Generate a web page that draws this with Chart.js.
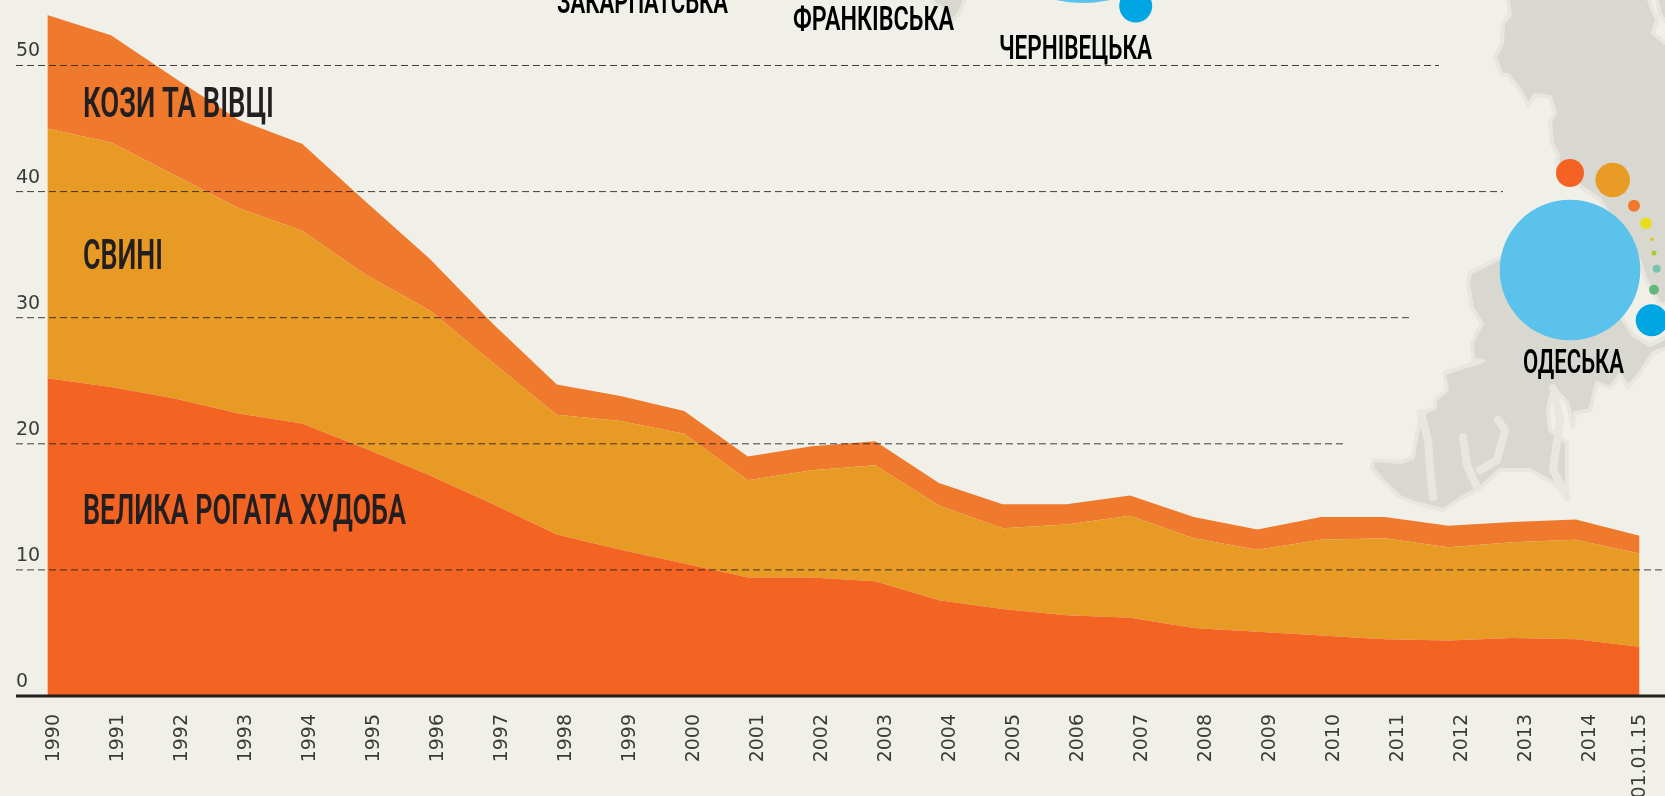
<!DOCTYPE html>
<html>
<head>
<meta charset="utf-8">
<title>Поголів'я худоби</title>
<script src="https://cdn.jsdelivr.net/npm/chart.js@4"></script>
<style>
    html, body { margin: 0; padding: 0; background: #f0f0e8; overflow: hidden; }
    canvas { display: block; }
</style>
</head>
<body>
<canvas id="livestockChart" width="1665" height="796"></canvas>
<script>
var years = [1990, 1991, 1992, 1993, 1994, 1995, 1996, 1997, 1998, 1999, 2000, 2001, 2002,
    2003, 2004, 2005, 2006, 2007, 2008, 2009, 2010, 2011, 2012, 2013, 2014, 2015];
var tickYears = [1990, 1991, 1992, 1993, 1994, 1995, 1996, 1997, 1998, 1999, 2000, 2001, 2002,
    2003, 2004, 2005, 2006, 2007, 2008, 2009, 2010, 2011, 2012, 2013, 2014, 2014.78];
var tickLabels = ['1990', '1991', '1992', '1993', '1994', '1995', '1996', '1997', '1998', '1999',
    '2000', '2001', '2002', '2003', '2004', '2005', '2006', '2007', '2008', '2009', '2010', '2011',
    '2012', '2013', '2014', '01.01.15'];
var yTicks = [0, 10, 20, 30, 40, 50];

var cattle = [25.2, 24.5, 23.6, 22.4, 21.6, 19.6, 17.5, 15.2, 12.8, 11.6, 10.5, 9.4, 9.4,
    9.1, 7.6, 6.9, 6.4, 6.2, 5.4, 5.1, 4.8, 4.5, 4.4, 4.6, 4.5, 3.9];
var pigs = [19.8, 19.4, 17.7, 16.3, 15.3, 13.8, 13.1, 11.2, 9.5, 10.2, 10.3, 7.7, 8.5,
    9.2, 7.5, 6.4, 7.2, 8.1, 7.1, 6.5, 7.6, 8.0, 7.4, 7.6, 7.9, 7.4];
var sheep = [9.0, 8.5, 7.7, 7.0, 6.9, 5.8, 4.1, 3.1, 2.4, 2.0, 1.8, 1.9, 1.9,
    1.9, 1.8, 1.9, 1.6, 1.6, 1.7, 1.6, 1.8, 1.7, 1.7, 1.6, 1.6, 1.4];

// dashed lines stop at different places, the map fragment sits behind them
var gridValues = [10, 20, 30, 40, 50];
var gridEnds = [1665, 1346, 1410, 1503, 1439];

// region bubbles cut off by the picture edge, in map coordinates
var bubbleX = [1083, 1135.7, 1570, 1570, 1612.7, 1634, 1646, 1651.7, 1654, 1656.7, 1654, 1651.7];
var bubbleY = [-115, 6, 270, 173, 180, 205.7, 223.3, 239.3, 253, 268.7, 289.7, 320.3];
var bubbleR = [118, 16.5, 70.3, 14, 17.3, 6, 5.8, 1.7, 2.5, 4, 5, 16];
var bubbleColors = ['#5bc2eb', '#00a6e4', '#5bc2eb', '#f46323', '#e89c26', '#ef7a2d', '#e8df1c',
    '#e0c020', '#a0cc30', '#7cc2b0', '#62b878', '#00a6e4'];

var landNorth = [[1506.7, -10], [1510, 15], [1503, 23], [1502, 43], [1495, 58], [1502, 75], [1508, 75],
    [1520, 90], [1528, 105], [1535, 95], [1550, 97], [1555, 113], [1550, 122], [1552, 143], [1558, 155],
    [1557, 167], [1583, 188], [1600, 200], [1640, 262], [1645, 278], [1660, 305], [1675, 300],
    [1675, 48], [1665, 43], [1653, 33], [1657, 20], [1645, -10]];
var landSouth = [[1500, 258], [1470, 273], [1468, 283], [1472, 308], [1482, 323], [1472, 342], [1473, 360],
    [1483, 361], [1444, 373], [1447, 390], [1435, 400], [1435, 408], [1421, 413], [1417, 433], [1413, 458],
    [1400, 462], [1373, 460], [1372, 468], [1382, 480], [1400, 497], [1415, 503], [1443, 510], [1463, 497],
    [1480, 488], [1500, 470], [1530, 470], [1553, 483], [1567, 497], [1567, 443], [1550, 430], [1548, 410],
    [1553, 388], [1567, 402], [1573, 427], [1575, 413], [1590, 410], [1597, 383], [1610, 388], [1620, 375],
    [1628, 387], [1640, 373], [1653, 353], [1675, 345], [1675, 333], [1650, 345], [1633, 335], [1622, 318],
    [1570, 270]];
var landBits = [[[925, -10], [969, -10], [960, 12], [950, 24], [945, 10], [935, 4]],
    [[1655, -10], [1675, -10], [1675, 32], [1660, 15]]];
var inlets = [[[1421, 413], [1428, 440], [1430, 470], [1433, 497]],
    [[1463, 437], [1467, 465], [1477, 487]],
    [[1498, 420], [1505, 430], [1497, 460], [1480, 470]],
    [[1553, 388], [1560, 420], [1553, 470], [1567, 497]]];

var chartLabels = [
    { text: 'КОЗИ ТА ВІВЦІ', x: 83, y: 117, w: 191, size: 42, color: '#231f20' },
    { text: 'СВИНІ', x: 83, y: 269, w: 80, size: 42, color: '#231f20' },
    { text: 'ВЕЛИКА РОГАТА ХУДОБА', x: 83, y: 524, w: 323, size: 42, color: '#231f20' },
    { text: 'ЗАКАРПАТСЬКА', x: 557, y: 13, w: 171, size: 34, color: '#000' },
    { text: 'ФРАНКІВСЬКА', x: 793, y: 30, w: 161, size: 34, color: '#000' },
    { text: 'ЧЕРНІВЕЦЬКА', x: 999, y: 59, w: 153, size: 34, color: '#000' },
    { text: 'ОДЕСЬКА', x: 1523, y: 373, w: 101, size: 34, color: '#000' }
];

function tracePath(ctx, chart, pts) {
    var sx = chart.scales.mapX, sy = chart.scales.mapY;
    ctx.beginPath();
    pts.forEach(function (p, i) {
        var px = sx.getPixelForValue(p[0]), py = sy.getPixelForValue(p[1]);
        if (i === 0) { ctx.moveTo(px, py); } else { ctx.lineTo(px, py); }
    });
}

var mapPlugin = {
    id: 'mapBackground',
    beforeDatasetsDraw: function (chart) {
        var ctx = chart.ctx;
        ctx.save();
        ctx.lineJoin = 'round';
        ctx.lineCap = 'round';
        [landNorth, landSouth].concat(landBits).forEach(function (pts) {
            tracePath(ctx, chart, pts);
            ctx.closePath();
            ctx.fillStyle = '#d8d8d0';
            ctx.fill();
            ctx.strokeStyle = '#e7e7df';
            ctx.lineWidth = 4;
            ctx.stroke();
        });
        inlets.forEach(function (pts) {
            tracePath(ctx, chart, pts);
            ctx.strokeStyle = '#e7e7df';
            ctx.lineWidth = 8;
            ctx.stroke();
        });
        ctx.restore();
    }
};

var labelPlugin = {
    id: 'seriesLabels',
    afterDatasetsDraw: function (chart) {
        var ctx = chart.ctx;
        ctx.save();
        ctx.textAlign = 'left';
        ctx.textBaseline = 'alphabetic';
        chartLabels.forEach(function (l) {
            ctx.font = '600 ' + l.size + 'px Roboto';
            ctx.fillStyle = l.color;
            // no condensed face installed, so squeeze to the measured width
            ctx.fillText(l.text, l.x, l.y, l.w);
        });
        ctx.restore();
    }
};

var datasets = [
    { label: 'Велика рогата худоба', data: cattle, backgroundColor: '#f36322', fill: 'origin' },
    { label: 'Свині', data: pigs, backgroundColor: '#e79b24', fill: '-1' },
    { label: 'Кози та вівці', data: sheep, backgroundColor: '#ef7a2d', fill: '-1' }
].map(function (d) {
    d.type = 'line';
    d.data = d.data.map(function (v, i) { return { x: years[i], y: v }; });
    d.xAxisID = 'x';
    d.yAxisID = 'y';
    d.borderWidth = 0;
    d.pointRadius = 0;
    d.stack = 'herd';
    d.order = 5;
    return d;
});

gridValues.forEach(function (v, i) {
    datasets.push({
        type: 'line',
        data: [{ x: 16, y: v }, { x: gridEnds[i], y: v }],
        xAxisID: 'mapX',
        yAxisID: 'y',
        stack: 'grid' + i,
        borderColor: 'rgba(35,31,32,0.85)',
        borderWidth: 1,
        borderDash: [7, 4],
        pointRadius: 0,
        clip: false,
        order: 2
    });
});

datasets.push({
    type: 'line',
    data: [{ x: 16, y: 0 }, { x: 1665, y: 0 }],
    xAxisID: 'mapX',
    yAxisID: 'y',
    stack: 'axis',
    borderColor: '#231f20',
    borderWidth: 3,
    pointRadius: 0,
    clip: false,
    order: 1
});

datasets.push({
    type: 'bubble',
    data: bubbleX.map(function (x, i) { return { x: x, y: bubbleY[i], r: bubbleR[i] }; }),
    xAxisID: 'mapX',
    yAxisID: 'mapY',
    backgroundColor: bubbleColors,
    borderWidth: 0,
    clip: false,
    order: 0
});

var ctx = document.getElementById('livestockChart');
var myChart = new Chart(ctx, {
    data: { datasets: datasets },
    plugins: [mapPlugin, labelPlugin],
    options: {
        responsive: false,
        animation: false,
        devicePixelRatio: 1,
        events: [],
        layout: { autoPadding: false, padding: { left: 16, right: 0, top: 0, bottom: 0 } },
        plugins: { legend: { display: false }, tooltip: { enabled: false } },
        scales: {
            x: { type: 'linear', display: false, min: 1990, max: 2015.4 },
            x2: {
                type: 'linear',
                axis: 'x',
                position: 'bottom',
                min: 1989.893,
                max: 2015.17,
                grid: { display: false, drawTicks: false },
                border: { display: false },
                afterBuildTicks: function (axis) {
                    axis.ticks = tickYears.map(function (v) { return { value: v }; });
                },
                afterFit: function (axis) {
                    axis.height = 100;
                    axis.paddingLeft = 0;
                    axis.paddingRight = 0;
                },
                ticks: {
                    autoSkip: false,
                    minRotation: 90,
                    maxRotation: 90,
                    padding: 18,
                    color: '#3a3a3a',
                    font: { family: 'DejaVu Sans', size: 19 },
                    callback: function (value, index) { return tickLabels[index]; }
                }
            },
            y: {
                type: 'linear',
                position: 'left',
                stacked: true,
                min: 0,
                max: 55.194,
                grid: { display: false, drawTicks: false },
                border: { display: false },
                afterBuildTicks: function (axis) {
                    axis.ticks = yTicks.map(function (v) { return { value: v }; });
                },
                afterFit: function (axis) {
                    axis.width = 31.3;
                    axis.paddingTop = 0;
                    axis.paddingBottom = 0;
                },
                ticks: {
                    crossAlign: 'far',
                    labelOffset: -14,
                    color: '#3a3a3a',
                    font: { family: 'DejaVu Sans', size: 19 }
                }
            },
            mapX: { type: 'linear', axis: 'x', display: false, min: 47.3, max: 1665 },
            mapY: { type: 'linear', axis: 'y', display: false, reverse: true, min: 0, max: 696 }
        }
    }
});
</script>
</body>
</html>
